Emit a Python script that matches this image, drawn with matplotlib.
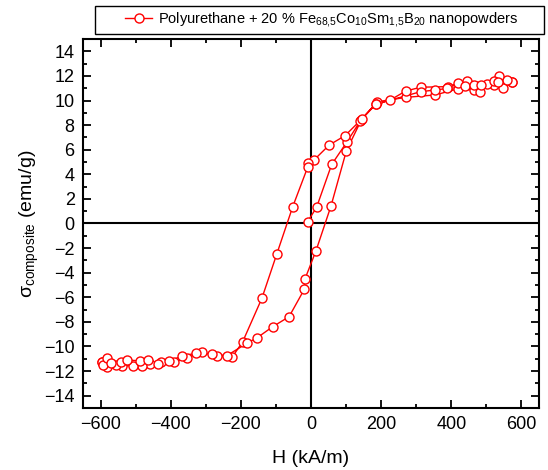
import matplotlib
matplotlib.use('Agg')
import matplotlib.pyplot as plt
from matplotlib.patches import Rectangle
from matplotlib.ticker import MultipleLocator

plt.rcParams['font.family'] = ['Liberation Sans', 'DejaVu Sans']
plt.rcParams['mathtext.fontset'] = 'custom'
plt.rcParams['mathtext.rm'] = 'Liberation Sans'
plt.rcParams['mathtext.it'] = 'Liberation Sans:italic'

# initial magnetisation curve
h_init = [-9.5, 16, 59, 103, 142, 189, 272, 354, 420, 465, 523, 547, 572]
s_init = [0.15, 1.32, 4.8, 6.65, 8.4, 9.9, 10.26, 10.45, 10.96, 10.85, 11.26, 11.0, 11.5]

# descending branch (+H -> -H)
h_down = [572, 558, 537, 502, 445, 391, 313, 270, 226, 185, 139, 97, 52, 8.5,
          -9.5, -9.5, -52, -97.5, -140, -195, -225, -268, -311, -353, -392,
          -429, -458, -481, -507, -538, -557, -583, -595]
s_down = [11.5, 11.65, 11.96, 11.38, 11.6, 11.13, 11.08, 10.77, 10.04, 9.7, 8.33,
          7.14, 6.38, 5.16, 4.94, 4.57, 1.37, -2.48, -6.08, -9.63, -10.88, -10.75,
          -10.47, -10.9, -11.3, -11.27, -11.45, -11.59, -11.56, -11.59, -11.52,
          -11.65, -11.25]

# ascending branch (-H -> +H)
h_up = [-595, -592, -583, -571, -543, -524, -488, -464, -437, -406, -368, -327,
        -282, -240, -183, -153, -109, -62.5, -19, -17, 14, 57, 101, 145, 185,
        313, 353, 388, 419, 439, 465, 483, 485, 521, 532]
s_up = [-11.25, -11.5, -10.9, -11.36, -11.25, -11.1, -11.17, -11.1, -11.45,
        -11.22, -10.77, -10.55, -10.6, -10.75, -9.74, -9.28, -8.39, -7.58, -5.35,
        -4.5, -2.24, 1.42, 5.92, 8.5, 9.7, 10.72, 10.85, 10.98, 11.45, 11.2, 11.26,
        10.72, 11.3, 11.56, 11.5]

h_all = h_init + h_down + h_up
s_all = s_init + s_down + s_up

label = ('Polyurethane + 20 % Fe$_{68{,}5}$Co$_{10}$Sm$_{1{,}5}$B$_{20}$'
         ' nanopowders')

fig = plt.figure(figsize=(5.48, 4.70), dpi=100)
ax = fig.add_axes([0.1515, 0.132, 0.832, 0.785])

ax.axhline(0, color='black', lw=1.5, zorder=1)
ax.axvline(0, color='black', lw=1.5, zorder=1)
line, = ax.plot(h_all, s_all, color='red', lw=1, marker='o', ms=6.5,
                mfc='white', mec='red', mew=1, label=label, zorder=3)

ax.set_xlim(-650, 650)
ax.set_ylim(-15, 15)
ax.xaxis.set_major_locator(MultipleLocator(200))
ax.xaxis.set_minor_locator(MultipleLocator(100))
ax.yaxis.set_major_locator(MultipleLocator(2))
ax.yaxis.set_minor_locator(MultipleLocator(1))
ax.tick_params(which='both', direction='in', top=True, right=True,
               labelsize=13, width=1.3, pad=6)
ax.tick_params(which='major', length=6)
ax.tick_params(which='minor', length=3)
for sp in ax.spines.values():
    sp.set_linewidth(1.5)

ax.set_xlabel('H (kA/m)', fontsize=14, labelpad=12)
ax.set_ylabel(r'σ$_{\mathrm{composite}}$ (emu/g)', fontsize=14, labelpad=2)

# legend box spanning the top of the figure
fig.patches.append(Rectangle((0.173, 0.928), 0.820, 0.059, transform=fig.transFigure,
                             fill=False, edgecolor='black', lw=1))
fig.legend(handles=[line], loc='center', bbox_to_anchor=(0.587, 0.9575),
           frameon=False, fontsize=10.5, handlelength=1.9, handletextpad=0.4)

fig.savefig('out.png', dpi=100)
